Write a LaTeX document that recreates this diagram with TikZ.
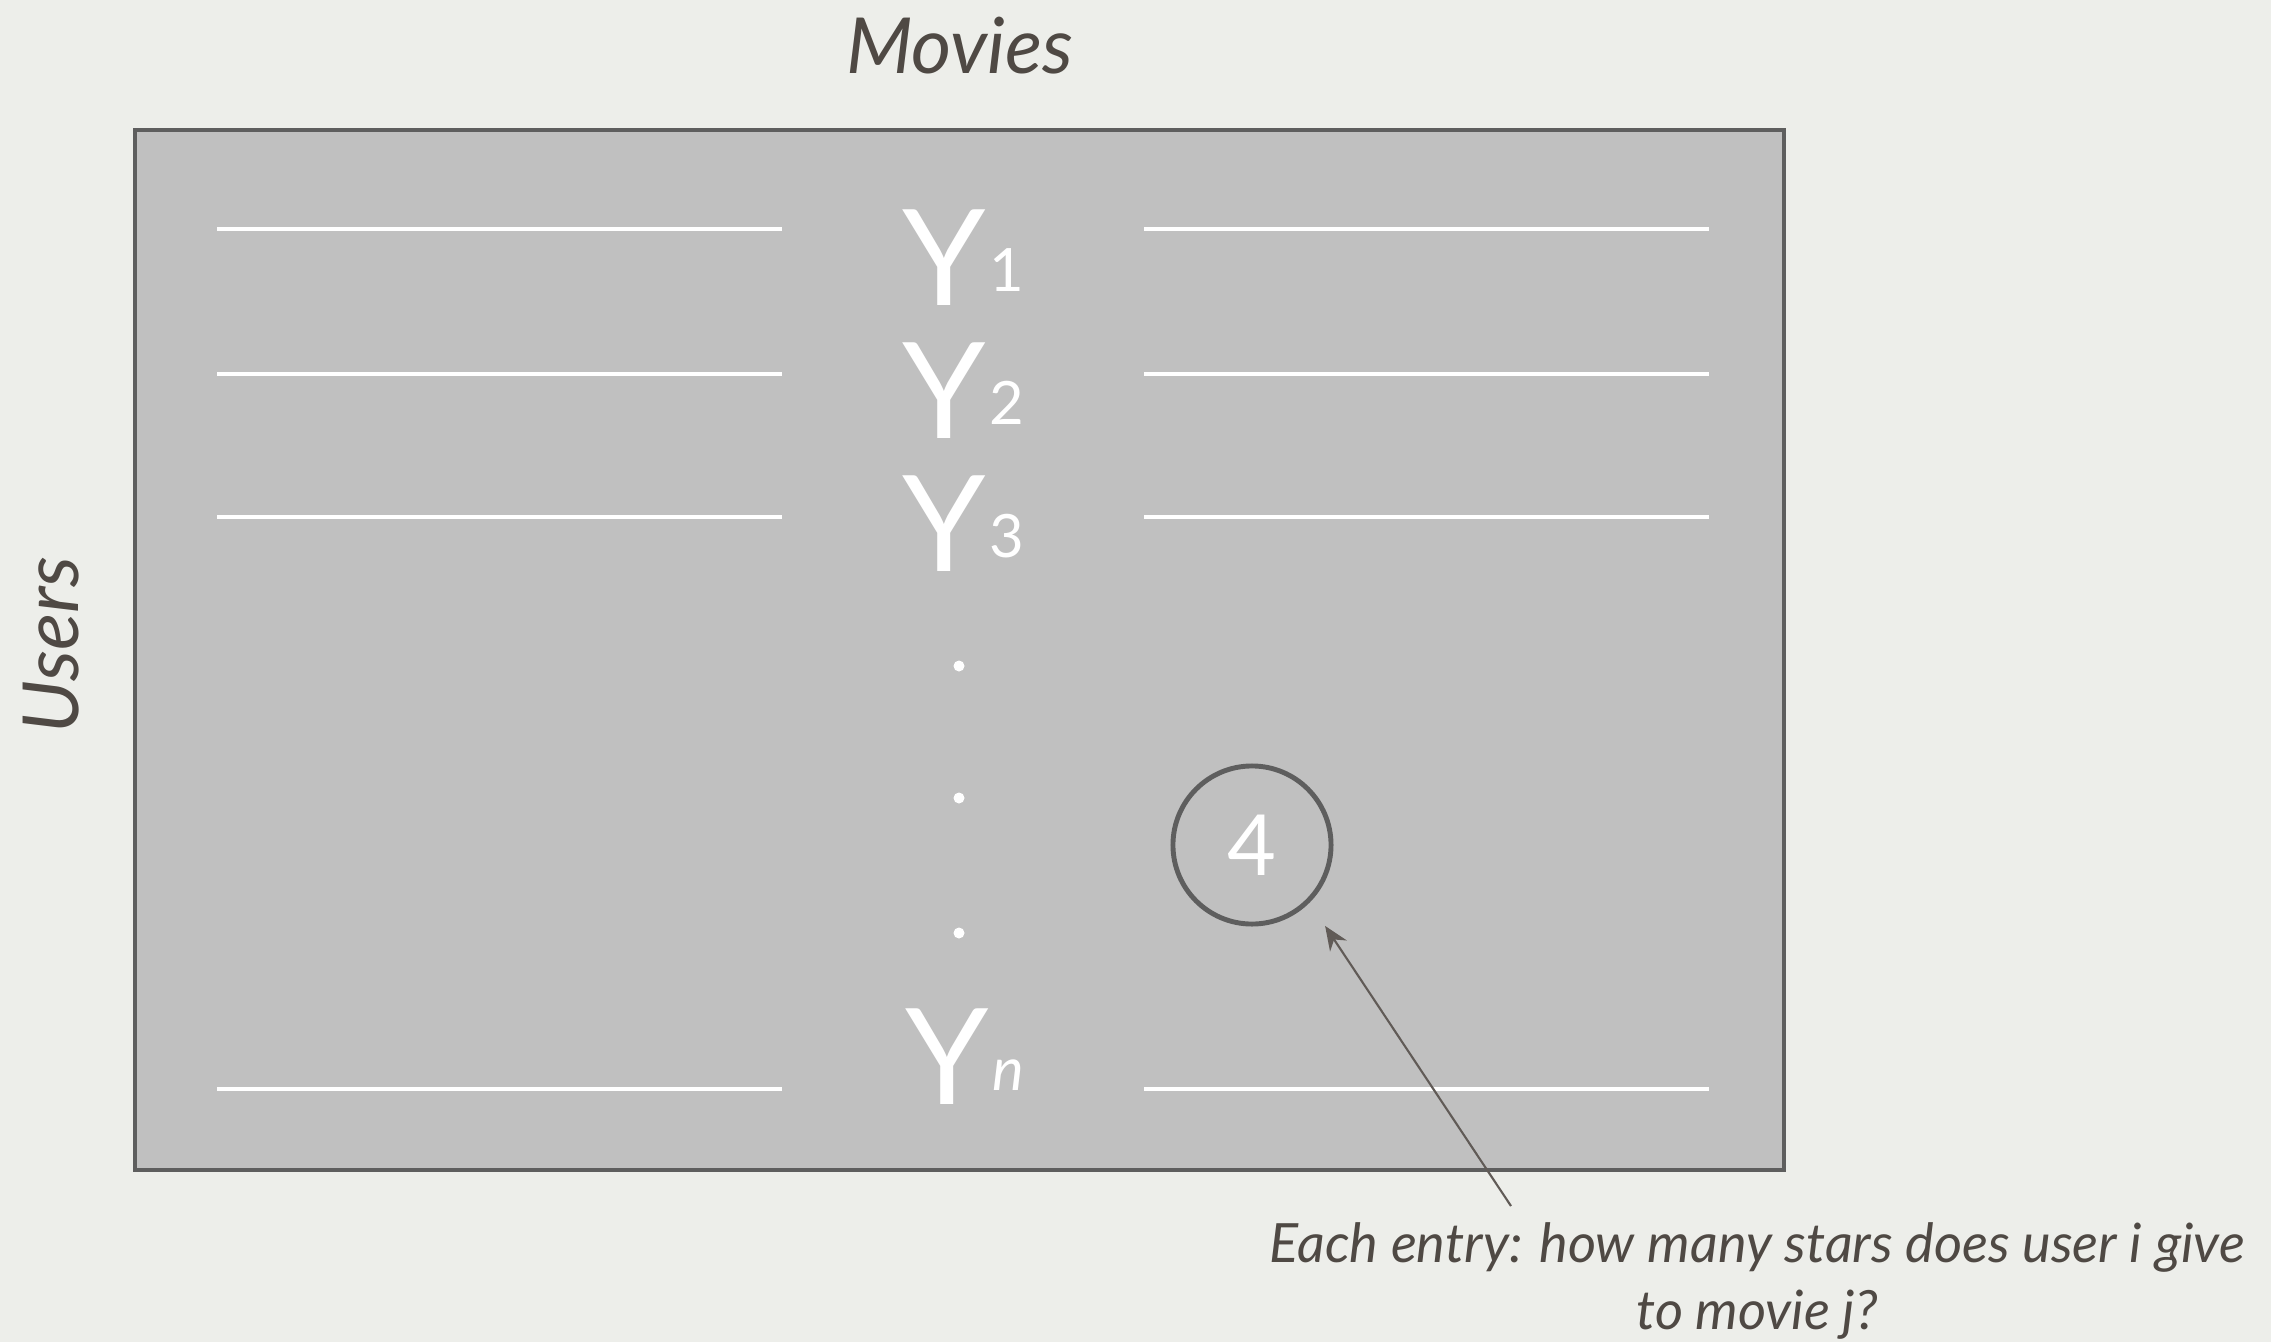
\documentclass[tikz,border=0pt]{standalone}
\usepackage{fontspec}
\setmainfont{Lato}
\usetikzlibrary{arrows.meta}
\usetikzlibrary{calc}

\definecolor{paper}{HTML}{EDEEEA}
\definecolor{cell}{HTML}{C0C0C0}
\definecolor{frame}{HTML}{5E5E5E}
\definecolor{ink}{HTML}{4F4944}

\newcommand{\rowlabel}[1]{{\fontsize{38}{38}\selectfont Y}\hspace{1pt}\raisebox{4pt}{\fontsize{17}{17}\selectfont #1}}

\begin{document}
\begin{tikzpicture}[x=0.01cm,y=-0.01cm,
    axislabel/.style={text=ink,font=\itshape\fontsize{22}{22}\selectfont},
    rowline/.style={white,line width=1.2pt},
    rowname/.style={text=white,inner sep=0pt}]

    % paper background, fixes the page size
    \fill[paper] (0,0) rectangle (2271,1342);
    \useasboundingbox (0,0) rectangle (2271,1342);

    % the ratings matrix
    \draw[frame,fill=cell,line width=1.4pt] (135,130) rectangle (1784,1170);

    \node[axislabel] (movies) at (960,46) {Movies};
    \node[axislabel,rotate=90] (users) at (51,645) {Users};

    % rows of the matrix
    \foreach \y in {229,374,517,1089} {
        \draw[rowline] (217,\y) -- (782,\y);
        \draw[rowline] (1144,\y) -- (1709,\y);
    }

    \node[rowname] (y1) at (963,258) {\rowlabel{1}};
    \node[rowname] (y2) at (963,391) {\rowlabel{2}};
    \node[rowname] (y3) at (963,524) {\rowlabel{3}};
    \node[rowname] (yn) at (965,1057) {\rowlabel{\itshape n}};

    % vertical dots
    \foreach \y in {666,798,933}
        \fill[white] (959,\y) circle (5.5);

    % one entry
    \node[circle,draw=frame,line width=1.4pt,minimum size=1.58cm,text=white,
          font=\fontsize{24}{24}\selectfont] (rating) at (1252,845) {4};

    \node[text=ink,align=center,font=\itshape\fontsize{15.4}{19}\selectfont]
        (caption) at (1757,1281) {Each entry: how many stars does user i give\\to movie j?};

    \coordinate (callout) at (1511,1206);
    \draw[-{Stealth[length=2.4mm,width=2mm]},ink!90,line width=0.6pt,shorten >=0.28cm]
        (callout) -- (rating.-45);

\end{tikzpicture}
\end{document}
